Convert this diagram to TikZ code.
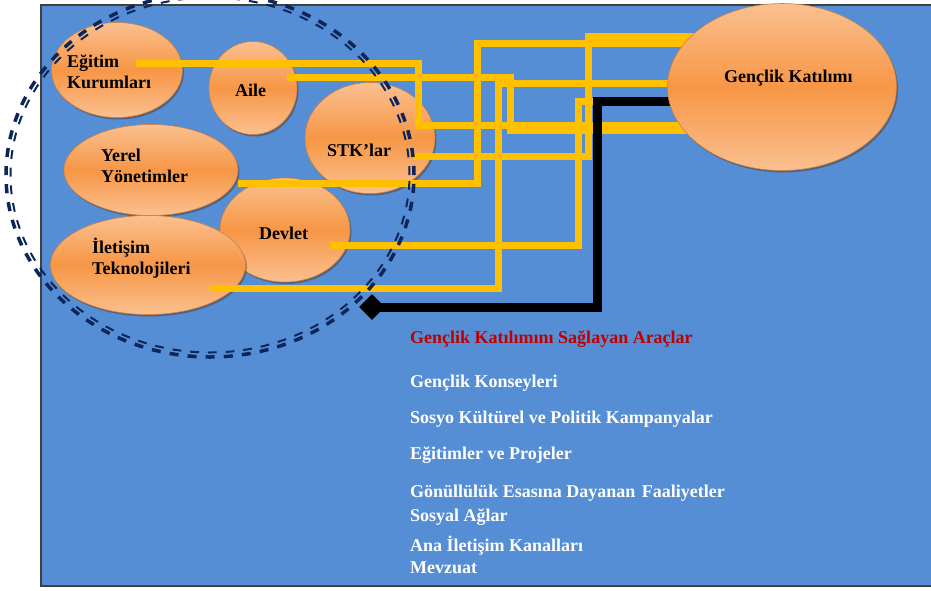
\documentclass[tikz,border=0pt]{standalone}
\usepackage{fontspec}
\setmainfont{Liberation Serif}
\usetikzlibrary{shapes.geometric,shadows}
\definecolor{zemin}{RGB}{85,142,213}
\definecolor{acik}{RGB}{250,192,144}
\definecolor{koyu}{RGB}{247,150,70}
\definecolor{sari}{RGB}{255,192,0}
\definecolor{lacivert}{RGB}{12,38,92}
\definecolor{kirmizi}{RGB}{192,0,0}
\pgfdeclarelayer{front}
\pgfsetlayers{main,front}
\begin{document}
\begin{tikzpicture}[x=1pt,y=-1pt,
  balon/.style={ellipse, draw=koyu!85!black, line width=0.6pt, inner sep=0pt,
    top color=acik, bottom color=acik, middle color=koyu,
    drop shadow={shadow xshift=1.5pt, shadow yshift=-2pt, fill=black!60!brown, opacity=0.45}},
  yazi/.style={font=\fontsize{18}{20.5}\selectfont\bfseries, align=left, inner sep=0pt, anchor=base west},
  tel/.style={draw=sari, line width=7pt},
  liste/.style={font=\fontsize{18}{20}\selectfont\bfseries, text=white, anchor=base west, inner sep=0pt}]
\useasboundingbox (0,0) rectangle (931,590);
\draw[fill=zemin, draw=black!75, line width=1.5pt] (41,5) rectangle (945,586);

% kurumlar
\node[balon, minimum width=131pt, minimum height=95pt] (egitim) at (117,70) {};
\node[balon, minimum width=88pt, minimum height=93pt] (aile) at (253,88) {};
\node[balon, minimum width=130pt, minimum height=111pt] (stk) at (370,138) {};
\node[balon, minimum width=174pt, minimum height=91pt] (yerel) at (151,170) {};
\node[balon, minimum width=130pt, minimum height=104pt] (devlet) at (285,230) {};
\node[balon, minimum width=195pt, minimum height=99pt] (iletisim) at (148,265) {};
\node[yazi] (egitim-y) at (67,88) {Eğitim\\Kurumları};
\node[yazi] (aile-y) at (235,96) {Aile};
\node[yazi] (stk-y) at (327,156) {STK’lar};
\node[yazi] (yerel-y) at (101,182) {Yerel\\Yönetimler};
\node[yazi] (devlet-y) at (259,239) {Devlet};
\node[yazi] (iletisim-y) at (92,274) {İletişim\\Teknolojileri};

\begin{pgfonlayer}{front}
\node[balon, minimum width=229pt, minimum height=167pt] (genclik) at (782,87) {};
\node[yazi] (genclik-y) at (724,82) {Gençlik Katılımı};
\end{pgfonlayer}

% baglantilar
\draw[tel] (egitim.center) ++(19,-7) -| (418,125) -- (genclik.center |- 0,125);
\draw[tel] (aile.center) ++(34,-11) -| (510,130) -- (genclik.center |- 0,130);
\draw[tel] (yerel.center) ++(87,13) -| (477,43) -- (genclik.center |- 0,43);
\draw[tel] (stk.center) ++(43,18) -| (588,36) -- (genclik.center |- 0,36);
\draw[tel] (devlet.center) ++(45,15) -| (578,101) -- (genclik.center |- 0,101);
\draw[tel] (iletisim.center) ++(62,23) -| (498,83) -- (genclik.center |- 0,83);

\node[diamond, fill=black, minimum width=26pt, minimum height=26pt, inner sep=0pt] (uc) at (372,307) {};
\draw[black, line width=9pt] (uc.center) -| (597,101) -- (genclik.center |- 0,101);

% kesikli cift cember
\draw[lacivert, line width=3.5pt, dash pattern=on 9.06pt off 9.06pt]
  (210,175) ellipse [x radius=204pt, y radius=182pt];
\draw[lacivert, line width=2pt, dash pattern=on 8.87pt off 8.87pt]
  (210,175) ellipse [x radius=199.5pt, y radius=177.5pt];

% araclar
\node[liste, text=kirmizi] (baslik) at (410,343) {Gençlik Katılımını Sağlayan Araçlar};
\foreach [count=\i] \y/\metin in {387/Gençlik Konseyleri, 423/Sosyo Kültürel ve Politik Kampanyalar,
  459/Eğitimler ve Projeler, 497/Gönüllülük Esasına Dayanan\hspace{2pt} Faaliyetler,
  521/Sosyal Ağlar, 551/Ana İletişim Kanalları, 573/Mevzuat}
  \node[liste] (arac\i) at (410,\y) {\metin};
\end{tikzpicture}
\end{document}
